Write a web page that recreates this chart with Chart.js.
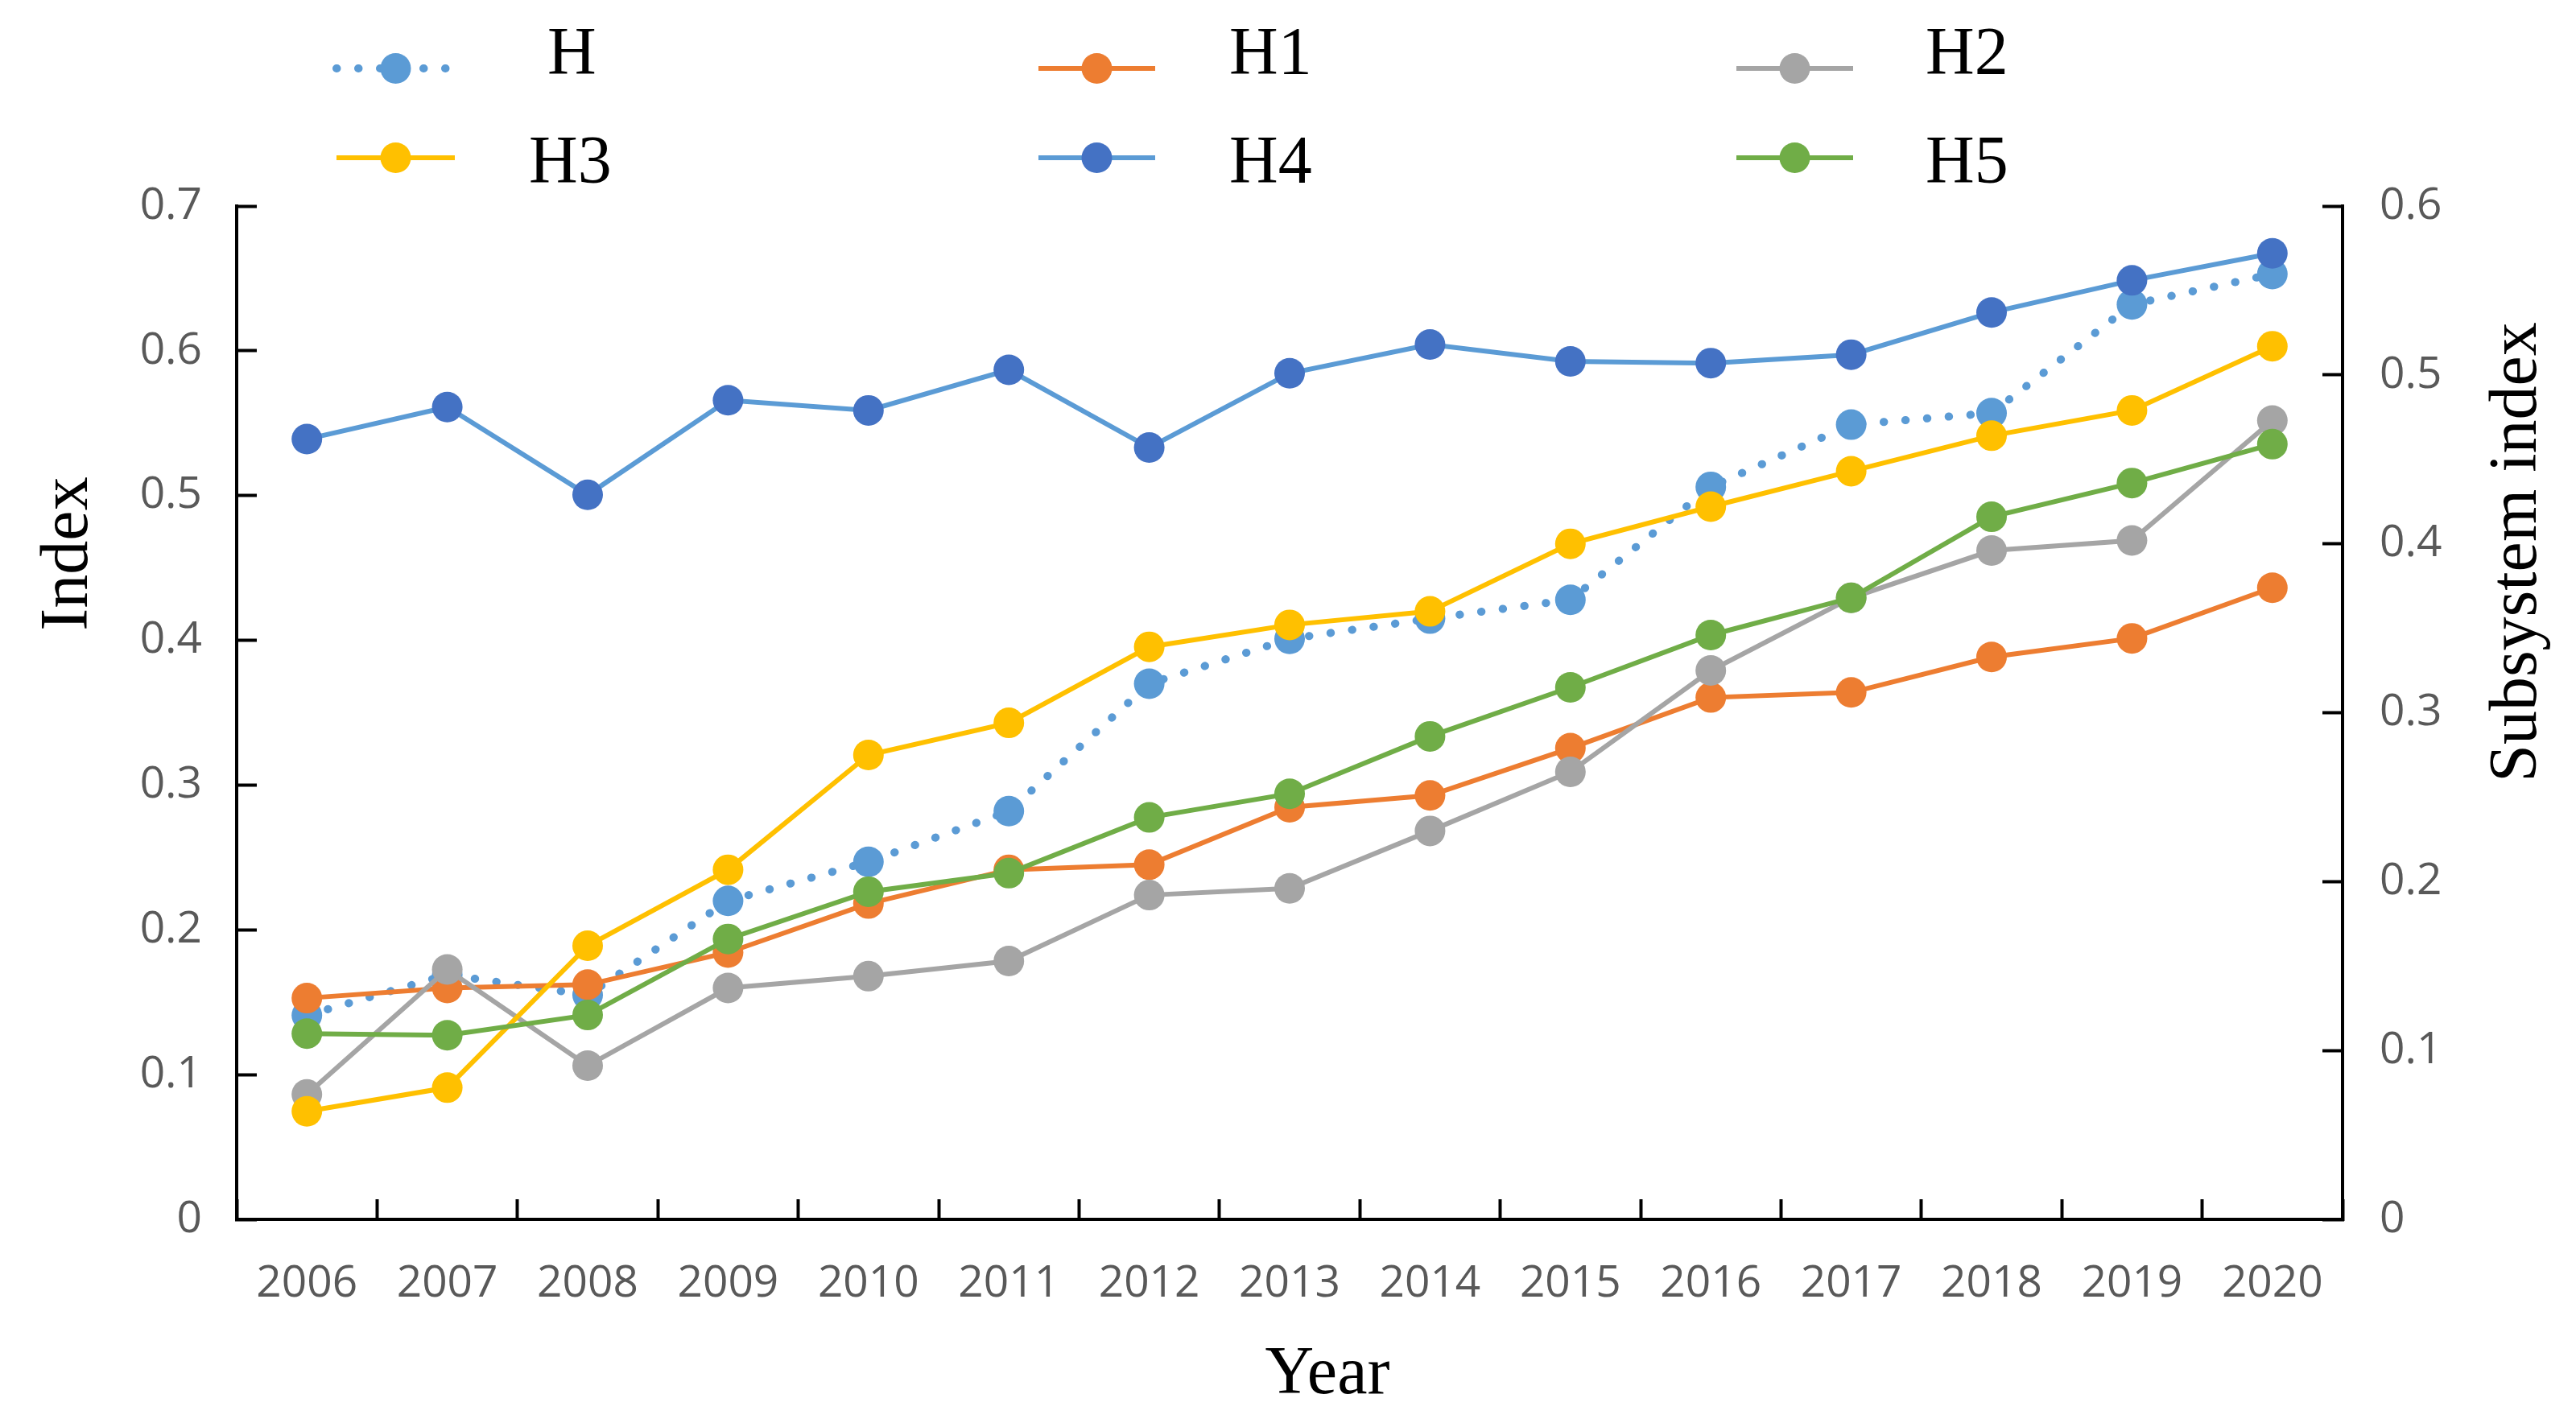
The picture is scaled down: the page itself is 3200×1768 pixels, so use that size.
<!DOCTYPE html>
<html>
<head>
<meta charset="utf-8">
<script src="https://cdn.jsdelivr.net/npm/chart.js@4.4.1/dist/chart.umd.min.js"></script>
<style>
html,body{margin:0;padding:0;background:#fff;}
#wrap{width:3200px;height:1768px;position:relative;}
</style>
</head>
<body>
<div id="wrap"><canvas id="c" width="3200" height="1768"></canvas></div>
<script>
// ---- data ----
const years = ['2006','2007','2008','2009','2010','2011','2012','2013','2014','2015','2016','2017','2018','2019','2020'];
const seriesNames = ['H','H1','H2','H3','H4','H5'];
const H  = [0.141,0.169,0.155,0.220,0.247,0.282,0.370,0.401,0.415,0.428,0.506,0.549,0.557,0.632,0.653];
const H1 = [0.131,0.137,0.139,0.158,0.187,0.207,0.210,0.244,0.251,0.279,0.309,0.312,0.333,0.344,0.374];
const H2 = [0.074,0.148,0.091,0.137,0.144,0.153,0.192,0.196,0.230,0.265,0.325,0.368,0.396,0.402,0.473];
const H3 = [0.064,0.078,0.162,0.207,0.275,0.294,0.339,0.352,0.360,0.400,0.422,0.443,0.464,0.479,0.517];
const H4 = [0.462,0.481,0.429,0.485,0.479,0.503,0.457,0.501,0.518,0.508,0.507,0.512,0.537,0.556,0.572];
const H5 = [0.110,0.109,0.121,0.166,0.194,0.205,0.238,0.252,0.286,0.315,0.346,0.368,0.416,0.436,0.459];
const leftAxisRange = [0, 0.7];
const rightAxisRange = [0, 0.6];
const tickStep = 0.1;
const titles = {left:'Index', right:'Subsystem index', x:'Year'};

// ---- styles ----
const lineColors  = ['#5B9BD5','#ED7D31','#A5A5A5','#FFC000','#5B9BD5','#70AD47'];
const pointColors = ['#5B9BD5','#ED7D31','#A5A5A5','#FFC000','#4472C4','#70AD47'];
const seriesData = [H,H1,H2,H3,H4,H5];
const axisIds = ['y','y1','y1','y1','y1','y1'];

const datasets = seriesNames.map((name,i)=>({
  label: name,
  data: seriesData[i],
  yAxisID: axisIds[i],
  borderColor: lineColors[i],
  backgroundColor: pointColors[i],
  pointBackgroundColor: pointColors[i],
  pointBorderColor: pointColors[i],
  pointBorderWidth: 0,
  pointRadius: 19,
  pointHoverRadius: 19,
  borderWidth: i===0 ? 10 : 6,
  borderDash: i===0 ? [0.5, 26.5] : [],
  borderCapStyle: i===0 ? 'round' : 'butt',
  tension: 0,
  fill: false,
  order: 6 - i
}));

const tickFont = {family:'"Open Sans", "Noto Sans", sans-serif', size:55};
const tickColor = '#595959';

const overlay = {
  id: 'overlay',
  afterDraw(chart){
    const ctx = chart.ctx;
    // legend slots: [lineStart, lineEnd, markerY, textX, textBaseline]
    const slots = [[418,565,85,680,92],[1290,1435,85,1527,92],[2157,2302,85,2392,92],
                   [418,565,196,657,227],[1290,1435,196,1527,227],[2157,2302,196,2392,227]];
    chart.data.datasets.forEach((ds,i)=>{
      const [x1,x2,y,tx,ty] = slots[i];
      ctx.save();
      ctx.strokeStyle = ds.borderColor;
      ctx.lineWidth = ds.borderWidth;
      ctx.lineCap = ds.borderCapStyle;
      ctx.setLineDash(ds.borderDash);
      ctx.beginPath(); ctx.moveTo(x1,y); ctx.lineTo(x2,y); ctx.stroke();
      ctx.setLineDash([]);
      ctx.fillStyle = ds.pointBackgroundColor;
      ctx.beginPath(); ctx.arc((x1+x2)/2, y, ds.pointRadius, 0, Math.PI*2); ctx.fill();
      ctx.fillStyle = '#000';
      ctx.font = '84px "Liberation Serif"';
      ctx.textBaseline = 'alphabetic';
      ctx.textAlign = 'left';
      ctx.fillText(ds.label, tx, ty);
      ctx.restore();
    });
    // axis titles
    ctx.save();
    ctx.fillStyle = '#000';
    ctx.font = '84px "Liberation Serif"';
    ctx.textAlign = 'center';
    ctx.textBaseline = 'alphabetic';
    ctx.fillText(titles.x, 1649, 1731);
    ctx.translate(108, 688); ctx.rotate(-Math.PI/2); ctx.fillText(titles.left, 0, 0);
    ctx.restore();
    ctx.save();
    ctx.fillStyle = '#000';
    ctx.font = '84px "Liberation Serif"';
    ctx.textAlign = 'center';
    ctx.textBaseline = 'alphabetic';
    ctx.translate(3150, 686); ctx.rotate(-Math.PI/2); ctx.fillText(titles.right, 0, 0);
    ctx.restore();
  }
};

new Chart(document.getElementById('c'), {
  type: 'line',
  data: { labels: years, datasets },
  options: {
    responsive: false,
    animation: false,
    devicePixelRatio: 1,
    layout: { padding: {top:256, left:0, right:0, bottom:0} },
    plugins: { legend:{display:false}, tooltip:{enabled:false} },
    scales: {
      x: {
        type:'category',
        offset:true,
        grid:{offset:true, drawOnChartArea:false, drawTicks:true, tickLength:-25, tickColor:'#000', tickWidth:4},
        border:{display:true, color:'#000', width:4},
        ticks:{font:tickFont, color:tickColor, padding:72, maxRotation:0, autoSkip:false},
        afterFit(s){ s.height = 253; }
      },
      y: {
        position:'left',
        min:leftAxisRange[0], max:leftAxisRange[1],
        grid:{drawOnChartArea:false, drawTicks:true, tickLength:-25, tickColor:'#000', tickWidth:4},
        border:{display:true, color:'#000', width:4},
        ticks:{stepSize:tickStep, font:tickFont, color:tickColor, padding:68},
        afterFit(s){ s.width = 294; }
      },
      y1: {
        position:'right',
        min:rightAxisRange[0], max:rightAxisRange[1],
        grid:{drawOnChartArea:false, drawTicks:true, tickLength:-25, tickColor:'#000', tickWidth:4},
        border:{display:true, color:'#000', width:4},
        ticks:{stepSize:tickStep, font:tickFont, color:tickColor, padding:71},
        afterFit(s){ s.width = 290; }
      }
    }
  },
  plugins: [overlay]
});
</script>
</body>
</html>
